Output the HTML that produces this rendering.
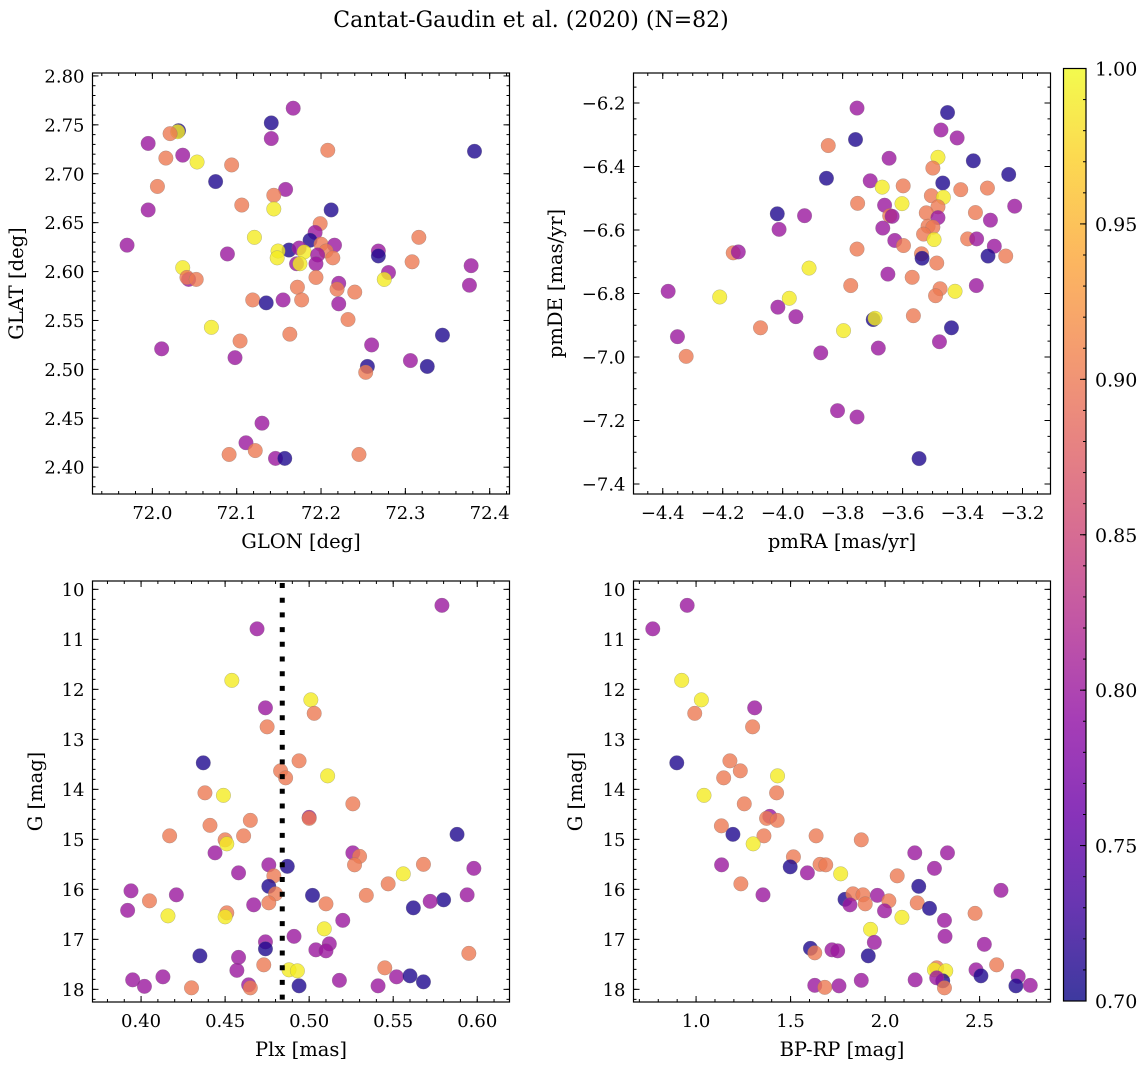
<!DOCTYPE html>
<html><head><meta charset="utf-8"><style>
html,body{margin:0;padding:0;background:#fff;}
svg{display:block;font-family:"DejaVu Serif","Liberation Serif",serif;}
</style></head><body>
<svg id="fig" width="1148" height="1068" viewBox="0 0 1148 1068" xmlns="http://www.w3.org/2000/svg">
<text x="531" y="27" font-size="22" text-anchor="middle">Cantat-Gaudin et al. (2020) (N=82)</text>
</svg>
<script>
// ---- Panel A: GLON vs GLAT ----
const glon=[72.167,72.141,72.141,72.031,72.030,72.021,71.995,72.208,72.382,72.016,72.036,72.053,72.094,72.075,72.006,72.158,72.144,72.106,71.995,72.144,72.212,72.199,72.193,72.121,72.316,72.187,71.970,72.200,72.216,72.162,72.174,72.089,72.149,72.148,72.180,72.206,72.196,72.214,72.268,72.268,72.171,72.175,72.194,72.308,72.378,72.036,72.043,72.041,72.052,72.280,72.275,72.376,72.194,72.221,72.219,72.172,72.240,72.119,72.135,72.155,72.177,72.221,72.232,72.070,72.163,72.344,72.104,72.260,72.011,72.098,72.306,72.255,72.326,72.253,72.130,72.111,72.122,72.091,72.245,72.146,72.157];
const glat=[2.767,2.752,2.736,2.744,2.743,2.741,2.731,2.724,2.723,2.716,2.719,2.712,2.709,2.692,2.687,2.684,2.678,2.668,2.663,2.664,2.663,2.649,2.640,2.635,2.635,2.632,2.627,2.628,2.627,2.622,2.624,2.618,2.621,2.614,2.620,2.621,2.617,2.614,2.621,2.616,2.608,2.608,2.608,2.610,2.606,2.604,2.592,2.594,2.592,2.599,2.592,2.586,2.594,2.588,2.582,2.584,2.579,2.571,2.568,2.571,2.571,2.567,2.551,2.543,2.536,2.535,2.529,2.525,2.521,2.512,2.509,2.503,2.503,2.497,2.445,2.425,2.417,2.413,2.413,2.409,2.409];
const probA=[0.80,0.71,0.80,0.71,0.99,0.90,0.80,0.90,0.71,0.90,0.80,0.99,0.90,0.71,0.90,0.80,0.90,0.90,0.80,0.99,0.71,0.90,0.80,0.99,0.90,0.71,0.80,0.90,0.80,0.71,0.80,0.80,0.99,0.99,0.99,0.90,0.80,0.90,0.80,0.71,0.80,0.99,0.80,0.90,0.80,0.99,0.80,0.90,0.90,0.80,0.99,0.80,0.90,0.80,0.90,0.90,0.90,0.90,0.71,0.80,0.90,0.80,0.90,0.99,0.90,0.71,0.90,0.80,0.80,0.80,0.80,0.71,0.71,0.90,0.80,0.80,0.90,0.90,0.90,0.80,0.71];
const xTicksA=[72.0,72.1,72.2,72.3,72.4];
const yTicksA=[2.40,2.45,2.50,2.55,2.60,2.65,2.70,2.75,2.80];
// ---- Panel B: pmRA vs pmDE ----
const pmra=[-3.752,-3.450,-3.472,-3.418,-3.757,-3.848,-3.645,-3.364,-3.482,-3.499,-3.246,-3.854,-3.708,-3.466,-3.668,-3.598,-3.406,-3.317,-3.504,-3.464,-3.750,-3.602,-3.660,-3.482,-3.226,-4.018,-3.927,-3.357,-3.521,-3.643,-3.635,-3.482,-3.307,-4.012,-3.666,-3.515,-3.499,-3.530,-3.495,-3.626,-3.383,-3.353,-3.597,-3.752,-3.294,-4.165,-4.148,-3.537,-3.535,-3.315,-3.256,-3.486,-3.912,-3.649,-3.568,-3.773,-3.354,-3.475,-3.490,-3.425,-4.382,-4.210,-3.978,-4.016,-3.956,-3.564,-3.698,-3.692,-4.074,-3.437,-3.797,-4.351,-3.477,-3.681,-4.322,-3.873,-3.817,-3.752,-3.545];
const pmde=[-6.216,-6.230,-6.285,-6.310,-6.315,-6.334,-6.374,-6.382,-6.371,-6.405,-6.425,-6.437,-6.445,-6.452,-6.465,-6.461,-6.473,-6.468,-6.492,-6.497,-6.516,-6.517,-6.522,-6.527,-6.525,-6.549,-6.555,-6.545,-6.546,-6.555,-6.557,-6.561,-6.569,-6.598,-6.594,-6.588,-6.591,-6.613,-6.630,-6.633,-6.628,-6.628,-6.649,-6.660,-6.651,-6.672,-6.669,-6.675,-6.689,-6.682,-6.682,-6.704,-6.720,-6.739,-6.749,-6.775,-6.775,-6.785,-6.807,-6.793,-6.793,-6.811,-6.815,-6.843,-6.873,-6.870,-6.882,-6.878,-6.908,-6.908,-6.917,-6.936,-6.952,-6.972,-6.998,-6.987,-7.169,-7.189,-7.320];
const probB=[0.80,0.71,0.80,0.80,0.71,0.90,0.80,0.71,0.99,0.90,0.71,0.71,0.80,0.71,0.99,0.90,0.90,0.90,0.90,0.99,0.90,0.99,0.80,0.90,0.80,0.71,0.80,0.90,0.90,0.90,0.80,0.80,0.80,0.80,0.80,0.90,0.90,0.90,0.99,0.80,0.90,0.80,0.90,0.90,0.80,0.90,0.80,0.90,0.71,0.71,0.90,0.90,0.99,0.80,0.90,0.90,0.80,0.90,0.90,0.99,0.80,0.99,0.99,0.80,0.80,0.90,0.71,0.99,0.90,0.71,0.99,0.80,0.80,0.80,0.90,0.80,0.80,0.80,0.71];
const xTicksB=[-4.4,-4.2,-4.0,-3.8,-3.6,-3.4,-3.2];
const yTicksB=[-7.4,-7.2,-7.0,-6.8,-6.6,-6.4,-6.2];
// ---- Panel C: Plx vs G ----
const plx=[0.579,0.469,0.454,0.501,0.474,0.503,0.475,0.437,0.494,0.483,0.486,0.511,0.438,0.449,0.526,0.500,0.500,0.441,0.465,0.417,0.461,0.450,0.451,0.588,0.444,0.526,0.530,0.527,0.476,0.487,0.458,0.568,0.556,0.598,0.479,0.394,0.476,0.547,0.480,0.421,0.502,0.534,0.594,0.405,0.580,0.572,0.476,0.510,0.467,0.392,0.562,0.451,0.416,0.450,0.520,0.509,0.491,0.474,0.474,0.512,0.504,0.510,0.595,0.435,0.458,0.473,0.457,0.545,0.488,0.493,0.552,0.560,0.413,0.395,0.518,0.568,0.464,0.465,0.402,0.430,0.494,0.541];
const gmagC=[10.32,10.79,11.82,12.21,12.37,12.48,12.75,13.47,13.43,13.63,13.77,13.73,14.07,14.12,14.29,14.56,14.58,14.72,14.62,14.93,14.93,15.01,15.09,14.90,15.27,15.27,15.34,15.51,15.51,15.54,15.67,15.50,15.69,15.58,15.73,16.03,15.94,15.89,16.09,16.11,16.12,16.12,16.11,16.23,16.21,16.24,16.27,16.29,16.31,16.42,16.37,16.47,16.53,16.55,16.62,16.79,16.94,17.05,17.19,17.09,17.21,17.23,17.28,17.33,17.36,17.51,17.62,17.57,17.61,17.63,17.75,17.73,17.75,17.81,17.82,17.85,17.91,17.97,17.94,17.97,17.93,17.93];
const probC=[0.80,0.80,0.99,0.99,0.80,0.90,0.90,0.71,0.90,0.90,0.90,0.99,0.90,0.99,0.90,0.80,0.90,0.90,0.90,0.90,0.90,0.90,0.99,0.71,0.80,0.80,0.90,0.90,0.80,0.71,0.80,0.90,0.99,0.80,0.90,0.80,0.71,0.90,0.90,0.80,0.71,0.90,0.80,0.90,0.71,0.80,0.90,0.90,0.80,0.80,0.71,0.90,0.99,0.99,0.80,0.99,0.80,0.80,0.71,0.80,0.80,0.80,0.90,0.71,0.80,0.90,0.80,0.90,0.99,0.99,0.80,0.71,0.80,0.80,0.80,0.71,0.80,0.90,0.80,0.90,0.71,0.80];
const plxCut=[0.484];
const xTicksC=[0.40,0.45,0.50,0.55,0.60];
const yTicksCD=[10,11,12,13,14,15,16,17,18];
// ---- Panel D: BP-RP vs G ----
const bprp=[0.771,0.953,0.924,1.028,0.993,1.310,1.299,0.898,1.179,1.234,1.146,1.431,1.042,1.426,1.255,1.390,1.373,1.429,1.134,1.195,1.359,1.302,1.635,1.874,2.157,2.330,1.515,1.135,1.498,1.656,1.686,2.261,1.589,1.765,2.064,1.237,2.178,2.613,1.354,1.788,1.830,1.883,1.959,1.814,1.895,2.020,2.170,2.235,1.997,2.089,2.476,2.314,1.923,2.317,1.943,2.525,1.605,1.628,1.719,1.749,1.911,2.590,2.273,2.261,2.321,2.481,2.507,2.305,2.273,2.704,1.874,2.159,1.628,1.681,1.756,2.314,2.692,2.768];
const gmagD=[10.79,10.32,11.82,12.21,12.48,12.37,12.75,13.47,13.43,13.63,13.77,13.73,14.12,14.07,14.29,14.54,14.58,14.62,14.73,14.90,14.93,15.09,14.93,15.01,15.27,15.27,15.35,15.51,15.55,15.50,15.51,15.58,15.67,15.69,15.73,15.89,15.94,16.02,16.11,16.20,16.09,16.11,16.12,16.31,16.29,16.23,16.27,16.38,16.43,16.56,16.48,16.62,16.80,16.94,17.06,17.10,17.18,17.27,17.21,17.23,17.33,17.51,17.57,17.61,17.63,17.61,17.73,17.83,17.77,17.74,17.82,17.81,17.92,17.96,17.93,17.97,17.93,17.92];
const probD=[0.80,0.80,0.99,0.99,0.90,0.80,0.90,0.71,0.90,0.90,0.90,0.99,0.99,0.90,0.90,0.80,0.90,0.90,0.90,0.71,0.90,0.99,0.90,0.90,0.80,0.80,0.90,0.80,0.71,0.90,0.90,0.80,0.80,0.99,0.90,0.90,0.71,0.80,0.80,0.71,0.90,0.90,0.80,0.80,0.90,0.90,0.90,0.71,0.80,0.99,0.90,0.80,0.99,0.80,0.80,0.80,0.71,0.90,0.80,0.80,0.71,0.90,0.90,0.99,0.99,0.80,0.71,0.71,0.80,0.80,0.80,0.80,0.80,0.90,0.80,0.90,0.71,0.80];
const xTicksD=[1.0,1.5,2.0,2.5];
const cbarTicks=[0.70,0.75,0.80,0.85,0.90,0.95,1.00];

const NS="http://www.w3.org/2000/svg";
const svg=document.getElementById('fig');
const plasma=["#0d0887","#41049d","#6a00a8","#8f0da4","#b12a90","#cc4778","#e16462","#f2844b","#fca636","#fcce25","#f0f921"];
function hx(c){return [parseInt(c.slice(1,3),16),parseInt(c.slice(3,5),16),parseInt(c.slice(5,7),16)];}
function cmap(t){t=Math.max(0,Math.min(1,t));const f=t*10;const i=Math.min(9,Math.floor(f));const u=f-i;const a=hx(plasma[i]),b=hx(plasma[i+1]);
  return "rgb("+a.map((v,k)=>Math.round(v+(b[k]-v)*u)).join(",")+")";}
function probColor(p){return cmap((p-0.7)/0.3);}
function mk(tag,attrs,parent){const e=document.createElementNS(NS,tag);for(const k in attrs)e.setAttribute(k,attrs[k]);(parent||svg).appendChild(e);return e;}
function fmt(v,d){return (v<0?"\u2212":"")+Math.abs(v).toFixed(d);}

function panel(cfg){
  const g=mk('g',{});
  
  
  const sx=v=>cfg.x0+(v-cfg.xd[0])/(cfg.xd[1]-cfg.xd[0])*(cfg.x1-cfg.x0);
  const sy=v=>cfg.y1-(v-cfg.yd[0])/(cfg.yd[1]-cfg.yd[0])*(cfg.y1-cfg.y0);
  const pg=mk('g',{},g);
  
  
  for(let i=0;i<cfg.xs.length;i++){
    const c=mk('circle',{cx:sx(cfg.xs[i]),cy:sy(cfg.ys[i]),r:7.3,fill:probColor(cfg.ps[i]),'fill-opacity':0.8,stroke:'#777','stroke-opacity':0.5,'stroke-width':0.5},pg);
    
    
  }
  if(cfg.vline){cfg.vline.forEach(v=>{
    const l=mk('line',{x1:sx(v),x2:sx(v),y1:cfg.y0+2,y2:cfg.y1,stroke:'#000','stroke-width':5,'stroke-dasharray':'5 9.7'},g);
    
    
  });}
  const tg=mk('g',{stroke:'#000','stroke-width':1},g);
  const xmin=Math.min(...cfg.xd),xmax=Math.max(...cfg.xd),ymin=Math.min(...cfg.yd),ymax=Math.max(...cfg.yd);
  for(let v=Math.ceil(xmin/cfg.xmin-1e-6)*cfg.xmin;v<=xmax+1e-9;v+=cfg.xmin){const X=sx(v);
    mk('line',{x1:X,x2:X,y1:cfg.y1,y2:cfg.y1-3},tg);mk('line',{x1:X,x2:X,y1:cfg.y0,y2:cfg.y0+3},tg);}
  for(let v=Math.ceil(ymin/cfg.ymin-1e-6)*cfg.ymin;v<=ymax+1e-9;v+=cfg.ymin){const Y=sy(v);
    mk('line',{x1:cfg.x0,x2:cfg.x0+3,y1:Y,y2:Y},tg);mk('line',{x1:cfg.x1,x2:cfg.x1-3,y1:Y,y2:Y},tg);}
  cfg.xt.forEach(v=>{const X=sx(v);
    mk('line',{x1:X,x2:X,y1:cfg.y1,y2:cfg.y1-6},tg);mk('line',{x1:X,x2:X,y1:cfg.y0,y2:cfg.y0+6},tg);
    const t=mk('text',{x:X,y:cfg.y1+25,'font-size':18,'text-anchor':'middle'},g);t.textContent=fmt(v,cfg.xdec);
    
    });
  cfg.yt.forEach(v=>{const Y=sy(v);
    mk('line',{x1:cfg.x0,x2:cfg.x0+6,y1:Y,y2:Y},tg);mk('line',{x1:cfg.x1,x2:cfg.x1-6,y1:Y,y2:Y},tg);
    const t=mk('text',{x:cfg.x0-8,y:Y+6.5,'font-size':18,'text-anchor':'end'},g);t.textContent=fmt(v,cfg.ydec);
    
    });
  const fr=mk('rect',{x:cfg.x0,y:cfg.y0,width:cfg.x1-cfg.x0,height:cfg.y1-cfg.y0,fill:'none',stroke:'#000','stroke-width':1.2},g);
  
  
  const xl=mk('text',{x:(cfg.x0+cfg.x1)/2,y:cfg.y1+54,'font-size':19.5,'text-anchor':'middle'},g);xl.textContent=cfg.xlab;
  
  
  const yc=(cfg.y0+cfg.y1)/2;
  const yl=mk('text',{x:cfg.ylx,y:yc,'font-size':19.5,'text-anchor':'middle',transform:'rotate(-90 '+cfg.ylx+' '+yc+')'},g);yl.textContent=cfg.ylab;
  
  
}

panel({name:'panel-sky-position',x0:92.5,x1:509.5,y0:73,y1:494,xd:[71.929,72.4235],yd:[2.3726,2.803],xs:glon,ys:glat,ps:probA,xt:xTicksA,yt:yTicksA,xmin:0.02,ymin:0.01,xdec:1,ydec:2,xlab:'GLON [deg]',ylab:'GLAT [deg]',ylx:23});
panel({name:'panel-proper-motion',x0:633.5,x1:1050.5,y0:73,y1:494,xd:[-4.4976,-3.1066],yd:[-7.4315,-6.1055],xs:pmra,ys:pmde,ps:probB,xt:xTicksB,yt:yTicksB,xmin:0.05,ymin:0.05,xdec:1,ydec:1,xlab:'pmRA [mas/yr]',ylab:'pmDE [mas/yr]',ylx:562});
panel({name:'panel-parallax-mag',x0:92.5,x1:509.5,y0:581,y1:1002,xd:[0.3711,0.6192],yd:[18.253,9.833],xs:plx,ys:gmagC,ps:probC,xt:xTicksC,yt:yTicksCD,xmin:0.01,ymin:0.2,xdec:2,ydec:0,xlab:'Plx [mas]',ylab:'G [mag]',ylx:42,vline:plxCut});
panel({name:'panel-cmd',x0:633.5,x1:1050.5,y0:581,y1:1002,xd:[0.669,2.875],yd:[18.253,9.833],xs:bprp,ys:gmagD,ps:probD,xt:xTicksD,yt:yTicksCD,xmin:0.1,ymin:0.2,xdec:1,ydec:0,xlab:'BP-RP [mag]',ylab:'G [mag]',ylx:582});

(function(){
  const cx0=1063.5,cx1=1086,cy0=68.5,cy1=1001;
  const g=mk('g',{});
  
  
  const defs=mk('defs',{},g);
  const lg=mk('linearGradient',{id:'cbg',x1:0,y1:1,x2:0,y2:0},defs);
  for(let i=0;i<=20;i++){mk('stop',{offset:(i/20),'stop-color':cmap(i/20),'stop-opacity':0.8},lg);}
  mk('rect',{x:cx0,y:cy0,width:cx1-cx0,height:cy1-cy0,fill:'url(#cbg)',stroke:'#000','stroke-width':1.2},g);
  const sy=v=>cy1-(v-0.7)/0.3*(cy1-cy0);
  for(let k=71;k<100;k++){const Y=sy(k/100);mk('line',{x1:cx1,x2:cx1-3,y1:Y,y2:Y,stroke:'#000'},g);}
  cbarTicks.forEach(v=>{const Y=sy(v);mk('line',{x1:cx1,x2:cx1-6,y1:Y,y2:Y,stroke:'#000'},g);
    const t=mk('text',{x:1095,y:Y+7,'font-size':19},g);t.textContent=v.toFixed(2);
    
    });
})();
</script>
</body></html>
